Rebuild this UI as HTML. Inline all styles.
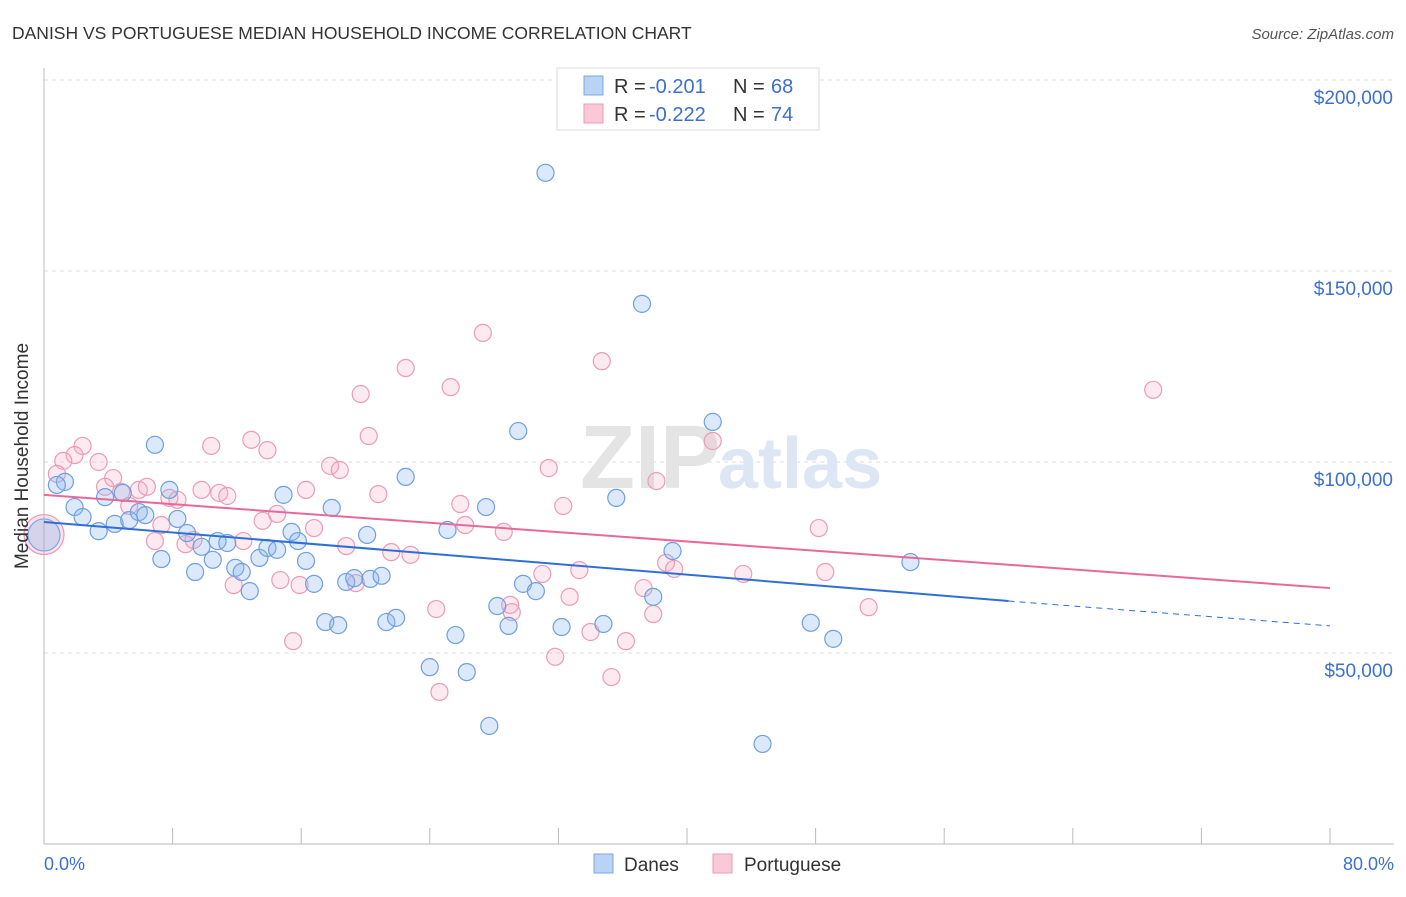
<!DOCTYPE html>
<html><head><meta charset="utf-8"><style>
body{margin:0;background:#fff;font-family:"Liberation Sans",sans-serif;}
svg text{font-family:"Liberation Sans",sans-serif;}
</style></head><body>
<svg width="1406" height="892" viewBox="0 0 1406 892">
<text x="12" y="39" font-size="17.5" fill="#333">DANISH VS PORTUGUESE MEDIAN HOUSEHOLD INCOME CORRELATION CHART</text>
<text x="1394" y="39" font-size="15" fill="#555" font-style="italic" text-anchor="end">Source: ZipAtlas.com</text>
<g id="grid"></g>
<text x="720" y="488" font-size="90" fill="#e4e4e4" text-anchor="end" font-family="Liberation Serif" font-weight="bold">ZIP</text>
<text x="718" y="488" font-size="72" fill="#dce6f4" font-weight="bold">atlas</text>
<g id="pts"></g>
<g id="lines"></g>
<text x="28" y="456" font-size="19" fill="#333" text-anchor="middle" transform="rotate(-90 28 456)">Median Household Income</text>
<text x="44" y="870" font-size="18" fill="#3b6fd1">0.0%</text>
<text x="1394" y="870" font-size="18" fill="#3b6fd1" text-anchor="end">80.0%</text>
<g>
<rect x="557" y="68" width="262" height="62" fill="#fff" stroke="#ddd"/>
<rect x="584" y="76" width="19" height="19" fill="#b9d3f4" stroke="#7ba7e3"/>
<rect x="584" y="104" width="19" height="19" fill="#f9c9d8" stroke="#ea9ab6"/>
<text x="614" y="93" font-size="20" fill="#333">R =</text>
<text x="649" y="93" font-size="20" fill="#3b6fd1">-0.201</text>
<text x="733" y="93" font-size="20" fill="#333">N =</text>
<text x="771" y="93" font-size="20" fill="#3b6fd1">68</text>
<text x="614" y="121" font-size="20" fill="#333">R =</text>
<text x="649" y="121" font-size="20" fill="#3b6fd1">-0.222</text>
<text x="733" y="121" font-size="20" fill="#333">N =</text>
<text x="771" y="121" font-size="20" fill="#3b6fd1">74</text>
</g>
<g>
<rect x="594" y="854" width="19" height="19" fill="#b9d3f4" stroke="#7ba7e3"/>
<text x="624" y="871" font-size="19" fill="#333">Danes</text>
<rect x="713" y="854" width="19" height="19" fill="#f9c9d8" stroke="#ea9ab6"/>
<text x="744" y="871" font-size="19" fill="#333">Portuguese</text>
</g>
</svg>
<script>
const yTicks=[50,100,150,200];
const yTickLabels=["$50,000","$100,000","$150,000","$200,000"];
const xTicks=[0,8,16,24,32,40,48,56,64,72,80];
const danesX=[31.2,37.2,41.6,29.5,6.9,22.5,35.6,27.5,14.9,17.9,1.3,0.8,1.9,2.4,3.4,3.8,4.4,4.9,5.3,5.9,6.3,7.8,8.3,7.3,8.9,9.4,9.8,10.5,10.8,11.4,11.9,12.3,12.8,13.4,13.9,14.5,15.4,15.8,16.3,16.8,17.5,18.3,18.8,19.3,20.3,21.0,20.1,21.3,21.9,25.1,25.6,24.0,26.3,27.7,28.2,28.9,29.8,30.6,32.2,34.8,37.9,39.1,44.7,47.7,49.1,53.9];
const danesY=[175.7,141.4,110.5,108.1,104.5,96.1,90.6,88.2,91.4,88.0,94.8,94.0,88.2,85.6,81.9,90.8,83.8,91.9,84.8,86.9,86.1,92.7,85.1,74.6,81.4,71.2,77.8,74.4,79.3,78.8,72.3,71.2,66.2,74.9,77.5,77.0,81.7,79.3,74.1,68.1,58.1,57.3,68.6,69.6,69.4,70.2,80.9,58.1,59.2,82.2,54.7,46.3,45.0,30.9,62.3,57.1,68.1,66.2,56.8,57.6,64.7,76.7,26.2,57.9,53.7,73.8];
const portX=[27.3,34.7,22.5,19.7,25.3,69.0,20.2,12.9,13.9,10.4,2.4,1.9,1.2,0.8,3.4,4.3,3.8,4.8,5.3,5.9,6.4,7.3,6.9,8.3,7.8,8.8,9.3,9.8,10.9,11.4,11.8,12.4,13.6,14.5,14.7,15.5,15.9,16.3,16.8,17.8,18.4,18.8,19.4,20.8,21.6,22.8,24.4,24.6,25.9,26.2,28.6,29.1,29.0,31.4,31.0,32.3,31.8,32.7,33.3,34.0,36.2,35.3,37.3,37.9,38.1,38.7,39.2,41.6,43.5,48.2,48.6,51.3];
const portY=[133.8,126.4,124.6,117.8,119.6,118.9,106.8,105.8,103.1,104.2,104.2,101.8,100.3,96.9,100.0,95.8,93.5,92.2,88.5,92.7,93.5,83.5,79.3,90.1,90.6,78.5,79.6,92.7,91.9,91.1,67.8,79.3,84.6,86.4,69.1,53.1,67.8,92.7,82.7,99.0,97.9,78.0,68.3,91.6,76.4,75.7,61.5,39.8,89.0,83.5,81.7,60.7,62.6,98.4,70.7,88.5,49.0,64.7,71.7,55.5,53.1,43.7,67.0,60.2,95.0,73.6,72.0,105.5,70.7,82.7,71.2,62.0];
const danesTrend=[84.3,63.6,57.1]; // at 0, 60, 80
const portTrend=[91.4,67.0]; // at 0, 80
const NS="http://www.w3.org/2000/svg";
const xs=p=>44+p*16.075;
const ys=v=>844-v*3.82;
function mk(tag,attrs,parent){const e=document.createElementNS(NS,tag);for(const k in attrs)e.setAttribute(k,attrs[k]);parent.appendChild(e);return e;}
const grid=document.getElementById('grid');
yTicks.forEach((t,i)=>{
 const l=mk('line',{x1:44,x2:1394,y1:ys(t),y2:ys(t),stroke:'#ddd','stroke-dasharray':'4,4'},grid);
 
 
 const tx=mk('text',{x:1393,y:ys(t)+24,'font-size':19,fill:'#3b6fd1','text-anchor':'end'},grid);
 tx.textContent=yTickLabels[i];
 
 
});
const ya=mk('line',{x1:44,x2:44,y1:68,y2:844,stroke:'#bbb'},grid);


const xa=mk('line',{x1:44,x2:1394,y1:844,y2:844,stroke:'#bbb'},grid);


xTicks.forEach(t=>{
 const k=mk('line',{x1:xs(t),x2:xs(t),y1:828,y2:844,stroke:'#bbb'},grid);
 
 
});
const pts=document.getElementById('pts');
function dot(x,y,r,fill,stroke,name){
 const c=mk('circle',{cx:xs(x),cy:ys(y),r:r,fill:fill,stroke:stroke,'stroke-width':1.2},pts);
 
 
}
dot(0,81,20,'rgba(240,160,190,0.3)','#e89ab5','portuguese-point-large');
dot(0,80.9,16,'rgba(130,175,235,0.3)','#7aa7e2','danes-point-large');
portX.forEach((x,i)=>dot(x,portY[i],8.5,'rgba(244,170,196,0.25)','#eb9bb8','portuguese-point'));
danesX.forEach((x,i)=>dot(x,danesY[i],8.5,'rgba(140,182,238,0.3)','#6f9fe0','danes-point'));
const lines=document.getElementById('lines');
const b1=mk('line',{x1:xs(0),y1:ys(danesTrend[0]),x2:xs(60),y2:ys(danesTrend[1]),stroke:'#2f6fd6','stroke-width':2},lines);


const b2=mk('line',{x1:xs(60),y1:ys(danesTrend[1]),x2:xs(80),y2:ys(danesTrend[2]),stroke:'#2f6fd6','stroke-width':1,'stroke-dasharray':'6,5'},lines);


const p1=mk('line',{x1:xs(0),y1:ys(portTrend[0]),x2:xs(80),y2:ys(portTrend[1]),stroke:'#e8689a','stroke-width':2},lines);


</script>
</body></html>
